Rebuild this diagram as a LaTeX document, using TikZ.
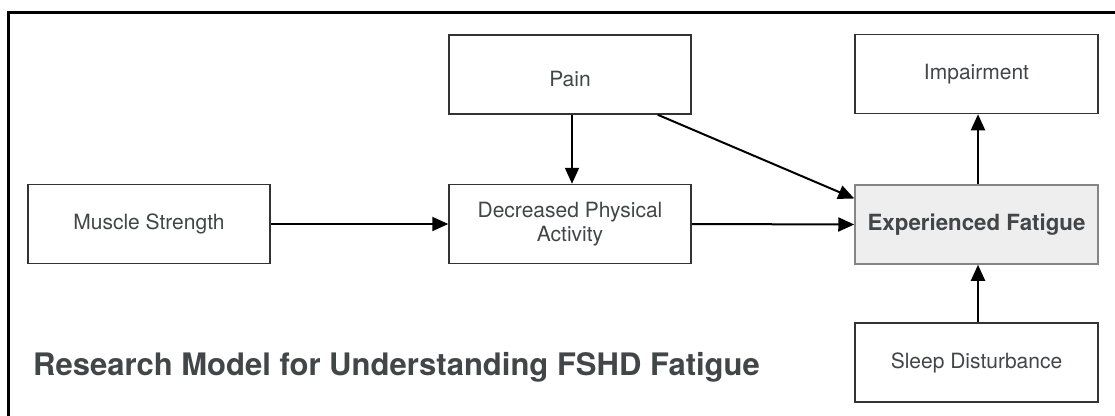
\documentclass[tikz,border=0pt]{standalone}
\usepackage{fontspec}
\setmainfont{TeX Gyre Heros}
\usetikzlibrary{arrows.meta,calc}
\definecolor{txtgray}{HTML}{434648}
\definecolor{boxline}{HTML}{333333}
\definecolor{fatfill}{HTML}{EEEEEE}
\tikzset{
  box/.style={draw=boxline, line width=1.5pt, minimum width=242pt, minimum height=79pt,
    align=center, text=txtgray, font=\fontsize{21}{24}\selectfont, inner sep=0pt},
  conn/.style={line width=2pt, -{Triangle[length=16pt,width=14pt]}},
}
\begin{document}
\begin{tikzpicture}[x=1pt,y=-1pt]
\clip (0,0) rectangle (1115,415);
\fill[white] (0,0) rectangle (1115,415);
\draw[line width=3pt] (8,12) rectangle (1130,430);
\node[box] (ms) at (149,224) {Muscle Strength};
\node[box] (pain) at (570,74.5) {\raisebox{-12pt}[0pt][0pt]{Pain}};
\node[box] (dpa) at (570,224) {Decreased Physical\\Activity};
\node[box, fill=fatfill, draw=boxline!60, minimum width=243pt, font=\fontsize{22.3}{26}\selectfont\bfseries] (ef) at (976.5,224.5) {Experienced Fatigue};
\node[box, minimum width=243pt] (imp) at (976.5,74) {Impairment};
\node[box, minimum width=243pt] (sd) at (976.5,362.5) {Sleep Disturbance};
\node[anchor=base west, text=txtgray, font=\fontsize{31}{34}\selectfont\bfseries, inner sep=0pt] (title) at (33,375) {Research Model for Understanding FSHD Fatigue};
\draw[conn] (ms.east) -- (dpa.west);
\draw[conn] ([xshift=2pt]pain.south) -- ([xshift=2pt]dpa.north);
\draw[conn] ([xshift=-34pt]pain.south east) -- ([yshift=26pt]ef.west);
\draw[conn] (dpa.east) -- (ef.west);
\draw[conn] ([xshift=1.5pt]ef.north) -- ([xshift=1.5pt]imp.south);
\draw[conn] ([xshift=1.5pt]sd.north) -- ([xshift=1.5pt]ef.south);
\end{tikzpicture}
\end{document}
